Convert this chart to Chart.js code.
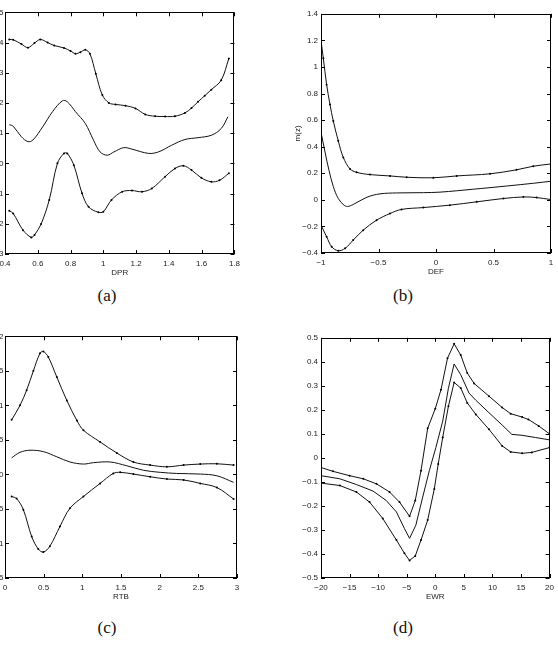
<!DOCTYPE html>
<html>
<head>
<meta charset="utf-8">
<script src="https://cdn.jsdelivr.net/npm/chart.js@4/dist/chart.umd.min.js"></script>
<style>
  html, body { margin: 0; padding: 0; background: #fff; }
  body { position: relative; width: 558px; height: 651px; overflow: hidden; }
  .panel { position: absolute; }
  .cap { position: absolute; width: 60px; margin-left: -30px; text-align: center;
         font-family: 'Liberation Serif', 'DejaVu Serif', serif; font-size: 17px; color: #111; line-height: 18px; }
</style>
</head>
<body>
<div class="panel" id="pa"><canvas id="ca"></canvas></div>
<div class="panel" id="pb"><canvas id="cb"></canvas></div>
<div class="panel" id="pc"><canvas id="cc"></canvas></div>
<div class="panel" id="pd"><canvas id="cd"></canvas></div>
<div class="cap" style="left:107px;top:287px">(a)</div>
<div class="cap" style="left:403px;top:287px">(b)</div>
<div class="cap" style="left:107px;top:619px">(c)</div>
<div class="cap" style="left:403px;top:619px">(d)</div>
<script>
'use strict';

/* ─── Data: panel (a) DPR ─────────────────────────────────── */
const aUpX  = [0.426, 0.45, 0.50, 0.54, 0.58, 0.615, 0.66, 0.70, 0.76, 0.80, 0.83, 0.86, 0.89, 0.918, 0.954, 0.994, 1.034, 1.075, 1.135, 1.196, 1.256, 1.316, 1.377, 1.437, 1.498, 1.538, 1.578, 1.619, 1.659, 1.719, 1.766];
const aUp   = [4.10, 4.09, 3.95, 3.83, 3.98, 4.10, 4.00, 3.90, 3.82, 3.72, 3.63, 3.68, 3.76, 3.63, 2.97, 2.26, 2.00, 1.95, 1.91, 1.82, 1.62, 1.56, 1.55, 1.56, 1.67, 1.83, 2.04, 2.24, 2.44, 2.75, 3.47];
const aMidX = [0.426, 0.45, 0.50, 0.54, 0.57, 0.63, 0.69, 0.75, 0.78, 0.83, 0.89, 0.94, 0.98, 1.024, 1.065, 1.125, 1.175, 1.276, 1.337, 1.417, 1.498, 1.578, 1.659, 1.719, 1.76];
const aMid  = [1.28, 1.23, 0.88, 0.72, 0.77, 1.21, 1.71, 2.07, 2.04, 1.71, 1.32, 0.77, 0.38, 0.27, 0.38, 0.52, 0.47, 0.33, 0.38, 0.60, 0.79, 0.85, 0.93, 1.15, 1.54];
const aLoX  = [0.426, 0.45, 0.51, 0.56, 0.58, 0.62, 0.67, 0.72, 0.76, 0.78, 0.82, 0.87, 0.91, 0.97, 1.00, 1.05, 1.115, 1.175, 1.236, 1.296, 1.377, 1.437, 1.488, 1.538, 1.598, 1.659, 1.709, 1.766];
const aLo   = [-1.57, -1.66, -2.21, -2.45, -2.37, -2.01, -1.21, 0.0, 0.33, 0.33, -0.06, -0.99, -1.44, -1.62, -1.60, -1.21, -0.94, -0.90, -0.94, -0.83, -0.44, -0.17, -0.08, -0.22, -0.48, -0.61, -0.56, -0.33];

/* ─── Data: panel (b) DEF ─────────────────────────────────── */
const bUpX  = [-1.0, -0.98, -0.951, -0.922, -0.893, -0.85, -0.806, -0.748, -0.69, -0.574, -0.40, -0.255, -0.023, 0.18, 0.47, 0.70, 0.846, 1.0];
const bUp   = [1.20, 1.066, 0.867, 0.718, 0.593, 0.444, 0.319, 0.233, 0.207, 0.19, 0.18, 0.17, 0.166, 0.18, 0.196, 0.226, 0.253, 0.27];
const bMidX = [-1.0, -0.965, -0.93, -0.893, -0.85, -0.80, -0.77, -0.72, -0.60, -0.487, -0.342, -0.11, 0.035, 0.325, 0.614, 0.85, 1.0];
const bMid  = [0.51, 0.36, 0.22, 0.10, 0.01, -0.04, -0.05, -0.035, 0.02, 0.045, 0.052, 0.054, 0.058, 0.08, 0.104, 0.125, 0.14];
const bLoX  = [-1.0, -0.951, -0.907, -0.85, -0.79, -0.72, -0.633, -0.517, -0.40, -0.30, -0.11, 0.12, 0.354, 0.586, 0.76, 0.875, 1.0];
const bLo   = [-0.19, -0.278, -0.353, -0.383, -0.365, -0.303, -0.228, -0.153, -0.103, -0.072, -0.058, -0.04, -0.015, 0.01, 0.022, 0.017, 0.002];

/* ─── Data: panel (c) RTB ─────────────────────────────────── */
const cUpX  = [0.086, 0.194, 0.28, 0.367, 0.453, 0.496, 0.56, 0.67, 0.80, 0.93, 1.014, 1.23, 1.446, 1.66, 1.877, 2.093, 2.31, 2.525, 2.74, 2.956];
const cUp   = [0.79, 1.0, 1.22, 1.50, 1.755, 1.78, 1.70, 1.41, 1.07, 0.78, 0.64, 0.47, 0.31, 0.18, 0.135, 0.11, 0.135, 0.15, 0.154, 0.135];
const cMidX = [0.086, 0.194, 0.324, 0.496, 0.67, 0.84, 1.014, 1.144, 1.36, 1.575, 1.79, 2.007, 2.22, 2.525, 2.74, 2.956];
const cMid  = [0.24, 0.32, 0.35, 0.33, 0.255, 0.18, 0.15, 0.17, 0.18, 0.125, 0.06, 0.03, 0.014, 0.005, -0.02, -0.115];
const cLoX  = [0.086, 0.15, 0.237, 0.345, 0.43, 0.496, 0.58, 0.71, 0.84, 1.014, 1.23, 1.40, 1.49, 1.66, 1.877, 2.093, 2.31, 2.525, 2.74, 2.956];
const cLo   = [-0.32, -0.35, -0.51, -0.90, -1.08, -1.125, -1.04, -0.755, -0.49, -0.32, -0.13, 0.014, 0.03, 0.005, -0.034, -0.067, -0.08, -0.13, -0.19, -0.356];

/* ─── Data: panel (d) EWR ─────────────────────────────────── */
const dUpX  = [-20, -17.9, -15, -12.6, -10.3, -8.0, -6.26, -4.5, -3.5, -2.5, -1.33, 0, 1.0, 2.14, 3.3, 4.46, 5.6, 6.8, 9.4, 11.7, 13.2, 15.2, 16.3, 18.1, 20];
const dUp   = [-0.04, -0.056, -0.074, -0.087, -0.108, -0.142, -0.184, -0.243, -0.177, -0.053, 0.123, 0.205, 0.284, 0.415, 0.475, 0.428, 0.353, 0.31, 0.257, 0.21, 0.184, 0.17, 0.16, 0.133, 0.10];
const dMidX = [-20, -16.7, -13.8, -10.9, -8.6, -6.8, -5.4, -4.5, -3.4, -2.2, -1.04, 0.1, 1.3, 2.3, 3.3, 4.46, 5.9, 7.1, 9.4, 11.7, 13.4, 15.2, 17.5, 20];
const dMid  = [-0.074, -0.087, -0.111, -0.138, -0.177, -0.225, -0.294, -0.335, -0.28, -0.163, -0.053, 0.043, 0.153, 0.29, 0.391, 0.346, 0.27, 0.24, 0.188, 0.137, 0.098, 0.094, 0.085, 0.075];
const dLoX  = [-20, -16.7, -13.8, -11.5, -9.2, -6.8, -5.4, -4.5, -3.5, -2.5, -1.33, -0.17, 0.52, 1.3, 2.3, 3.3, 4.46, 5.6, 7.1, 9.4, 11.7, 13.2, 15.2, 16.9, 20];
const dLo   = [-0.105, -0.115, -0.142, -0.184, -0.252, -0.342, -0.397, -0.427, -0.408, -0.342, -0.259, -0.129, -0.025, 0.085, 0.215, 0.314, 0.291, 0.229, 0.181, 0.119, 0.05, 0.025, 0.019, 0.023, 0.043];

/* ─── Axis ranges: [min, max, step] ───────────────────────── */
const aXRange = [0.4, 1.8, 0.2],  aYRange = [-3, 5, 1];
const bXRange = [-1, 1, 0.5],     bYRange = [-0.4, 1.4, 0.2];
const cXRange = [0, 3, 0.5],      cYRange = [-1.5, 2, 0.5];
const dXRange = [-20, 20, 5],     dYRange = [-0.5, 0.5, 0.1];

/* ─── Layout ──────────────────────────────────────────────── */
const Y_W = 36, X_H = 24, PAD_T = 6, PAD_R = 8;
const FONT = { family: "'Liberation Sans', Arial, sans-serif", size: 8 };
const INK = '#222';

function fmtTick(v) {
  const s = String(Math.round(v * 1000) / 1000);
  return s.replace('-', '\u2212');
}

/* box + inward ticks on all four sides */
const framePlugin = {
  id: 'frame',
  afterDraw(chart) {
    const { ctx, chartArea: a } = chart;
    const { x, y } = chart.scales;
    const L = 4;
    ctx.save();
    ctx.strokeStyle = '#000';
    ctx.lineWidth = 1;
    ctx.beginPath();
    x.ticks.forEach(t => {
      const px = Math.round(x.getPixelForValue(t.value)) + 0.5;
      ctx.moveTo(px, a.bottom); ctx.lineTo(px, a.bottom - L);
      ctx.moveTo(px, a.top);    ctx.lineTo(px, a.top + L);
    });
    y.ticks.forEach(t => {
      const py = Math.round(y.getPixelForValue(t.value)) + 0.5;
      ctx.moveTo(a.left, py);  ctx.lineTo(a.left + L, py);
      ctx.moveTo(a.right, py); ctx.lineTo(a.right - L, py);
    });
    ctx.stroke();
    ctx.strokeRect(Math.round(a.left) + 0.5, Math.round(a.top) + 0.5,
                   Math.round(a.width) - 1, Math.round(a.height) - 1);
    ctx.restore();
  },
};

function pts(xs, ys) {
  return xs.map((x, i) => ({ x, y: ys[i] }));
}

function band(xs, ys, tension) {
  return {
    data: pts(xs, ys),
    borderColor: '#111',
    borderWidth: 1,
    pointRadius: 1,
    pointBackgroundColor: '#000',
    pointBorderWidth: 0,
    tension,
  };
}

function mid(xs, ys, tension) {
  return {
    data: pts(xs, ys),
    borderColor: '#111',
    borderWidth: 1,
    pointRadius: 0,
    tension,
  };
}

function makePanel(boxId, canvasId, area, xr, yr, xTitle, yTitle, yPad, datasets) {
  const [L, T, R, B] = area;
  const box = document.getElementById(boxId);
  box.style.left   = (L - Y_W) + 'px';
  box.style.top    = (T - PAD_T) + 'px';
  box.style.width  = (Y_W + (R - L) + PAD_R) + 'px';
  box.style.height = (PAD_T + (B - T) + X_H) + 'px';

  return new Chart(document.getElementById(canvasId), {
    type: 'line',
    data: { datasets },
    plugins: [framePlugin],
    options: {
      responsive: true,
      maintainAspectRatio: false,
      animation: false,
      devicePixelRatio: 1,
      layout: { padding: { top: PAD_T, right: PAD_R, left: 0, bottom: 0 } },
      plugins: { legend: { display: false }, tooltip: { enabled: false } },
      scales: {
        x: {
          type: 'linear',
          min: xr[0], max: xr[1],
          grid: { display: false, drawTicks: false },
          border: { display: false },
          ticks: { stepSize: xr[2], callback: fmtTick, font: FONT, color: INK,
                   padding: 5, maxRotation: 0, autoSkip: false, includeBounds: true },
          title: { display: true, text: xTitle, font: FONT, color: INK,
                   padding: { top: 1, bottom: 0 } },
          afterFit: s => { s.height = X_H; },
        },
        y: {
          type: 'linear',
          min: yr[0], max: yr[1],
          grid: { display: false, drawTicks: false },
          border: { display: false },
          ticks: { stepSize: yr[2], callback: fmtTick, font: FONT, color: INK,
                   padding: yPad, autoSkip: false },
          title: { display: !!yTitle, text: yTitle || '', font: FONT, color: INK,
                   padding: { top: 8, bottom: 0 } },
          afterFit: s => { s.width = Y_W; },
        },
      },
    },
  });
}

makePanel('pa', 'ca', [5, 12, 237, 254], aXRange, aYRange, 'DPR', null, 1.5, [
  band(aUpX, aUp, 0.35), mid(aMidX, aMid, 0.35), band(aLoX, aLo, 0.35),
]);
makePanel('pb', 'cb', [321, 12, 551, 253], bXRange, bYRange, 'DEF', 'm(z)', 3, [
  band(bUpX, bUp, 0.35), mid(bMidX, bMid, 0.35), band(bLoX, bLo, 0.35),
]);
makePanel('pc', 'cc', [5, 336, 237, 578], cXRange, cYRange, 'RTB', null, 1.5, [
  band(cUpX, cUp, 0.35), mid(cMidX, cMid, 0.35), band(cLoX, cLo, 0.35),
]);
makePanel('pd', 'cd', [321, 336, 551, 578], dXRange, dYRange, 'EWR', null, 3, [
  band(dUpX, dUp, 0), mid(dMidX, dMid, 0), band(dLoX, dLo, 0),
]);
</script>
</body>
</html>
